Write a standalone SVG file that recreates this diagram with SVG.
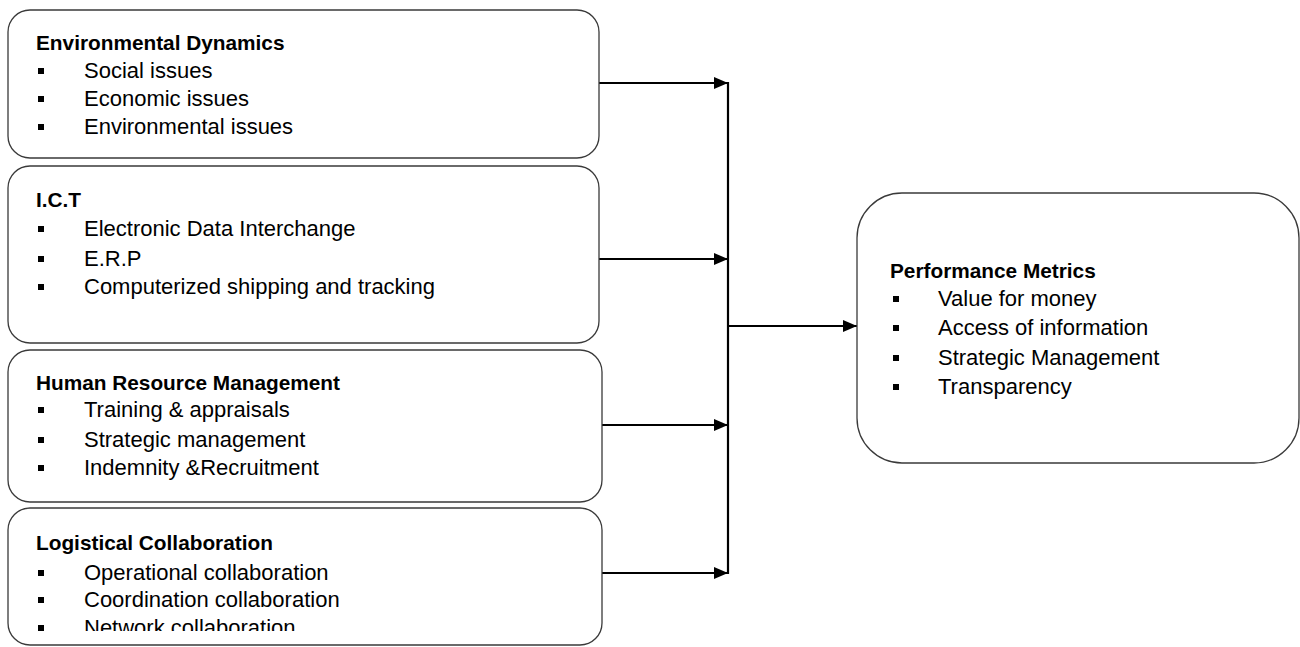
<svg xmlns="http://www.w3.org/2000/svg" width="1300" height="647" viewBox="0 0 1300 647">
<defs>
<style>
.box{fill:#fff;stroke:#3a3a3a;stroke-width:1.3}
.t{font-family:"Liberation Sans",Arial,sans-serif;font-size:22px;fill:#000}
.h{font-weight:bold;font-size:20.8px}
.b{fill:#000}
.c{stroke:#000;stroke-width:2.2;fill:none}
</style>
<marker id="ah" markerWidth="14" markerHeight="12" refX="14" refY="6" orient="auto" markerUnits="userSpaceOnUse">
<path d="M0,0 L14,6 L0,12 Z" fill="#000"/>
</marker>
<clipPath id="clip4"><rect x="0" y="500" width="620" height="131"/></clipPath>
</defs>
<rect width="1300" height="647" fill="#fff"/>

<g id="connectors">
<line class="c" x1="599" y1="83" x2="728" y2="83" marker-end="url(#ah)"/>
<line class="c" x1="599" y1="259" x2="728" y2="259" marker-end="url(#ah)"/>
<line class="c" x1="602" y1="425" x2="728" y2="425" marker-end="url(#ah)"/>
<line class="c" x1="602" y1="573" x2="728" y2="573" marker-end="url(#ah)"/>
<line class="c" x1="728" y1="82" x2="728" y2="574"/>
<line class="c" x1="728" y1="326" x2="857" y2="326" marker-end="url(#ah)"/>
</g>

<g id="env">
<rect class="box" x="8" y="10" width="591" height="148" rx="22"/>
<text class="t h" x="36" y="50">Environmental Dynamics</text>
<rect class="b" x="38" y="68" width="6" height="6"/>
<text class="t" x="84" y="78">Social issues</text>
<rect class="b" x="38" y="96" width="6" height="6"/>
<text class="t" x="84" y="106">Economic issues</text>
<rect class="b" x="38" y="124" width="6" height="6"/>
<text class="t" x="84" y="134">Environmental issues</text>
</g>

<g id="ict">
<rect class="box" x="8" y="166" width="591" height="177" rx="22"/>
<text class="t h" x="36" y="207">I.C.T</text>
<rect class="b" x="38" y="226" width="6" height="6"/>
<text class="t" x="84" y="236">Electronic Data Interchange</text>
<rect class="b" x="38" y="256" width="6" height="6"/>
<text class="t" x="84" y="266">E.R.P</text>
<rect class="b" x="38" y="284" width="6" height="6"/>
<text class="t" x="84" y="294">Computerized shipping and tracking</text>
</g>

<g id="hrm">
<rect class="box" x="8" y="350" width="594" height="152" rx="22"/>
<text class="t h" x="36" y="390">Human Resource Management</text>
<rect class="b" x="38" y="407" width="6" height="6"/>
<text class="t" x="84" y="417">Training &amp; appraisals</text>
<rect class="b" x="38" y="437" width="6" height="6"/>
<text class="t" x="84" y="447">Strategic management</text>
<rect class="b" x="38" y="465" width="6" height="6"/>
<text class="t" x="84" y="475">Indemnity &amp;Recruitment</text>
</g>

<g id="logistics">
<rect class="box" x="8" y="508" width="594" height="137" rx="22"/>
<g clip-path="url(#clip4)">
<text class="t h" x="36" y="550">Logistical Collaboration</text>
<rect class="b" x="38" y="570" width="6" height="6"/>
<text class="t" x="84" y="580">Operational collaboration</text>
<rect class="b" x="38" y="597" width="6" height="6"/>
<text class="t" x="84" y="607">Coordination collaboration</text>
<rect class="b" x="38" y="625" width="6" height="6"/>
<text class="t" x="84" y="635">Network collaboration</text>
</g>
</g>

<g id="performance">
<rect class="box" x="857" y="193" width="442" height="270" rx="45"/>
<text class="t h" x="890" y="278">Performance Metrics</text>
<rect class="b" x="893" y="296" width="6" height="6"/>
<text class="t" x="938" y="306">Value for money</text>
<rect class="b" x="893" y="325" width="6" height="6"/>
<text class="t" x="938" y="335">Access of information</text>
<rect class="b" x="893" y="355" width="6" height="6"/>
<text class="t" x="938" y="365">Strategic Management</text>
<rect class="b" x="893" y="384" width="6" height="6"/>
<text class="t" x="938" y="394">Transparency</text>
</g>
</svg>
